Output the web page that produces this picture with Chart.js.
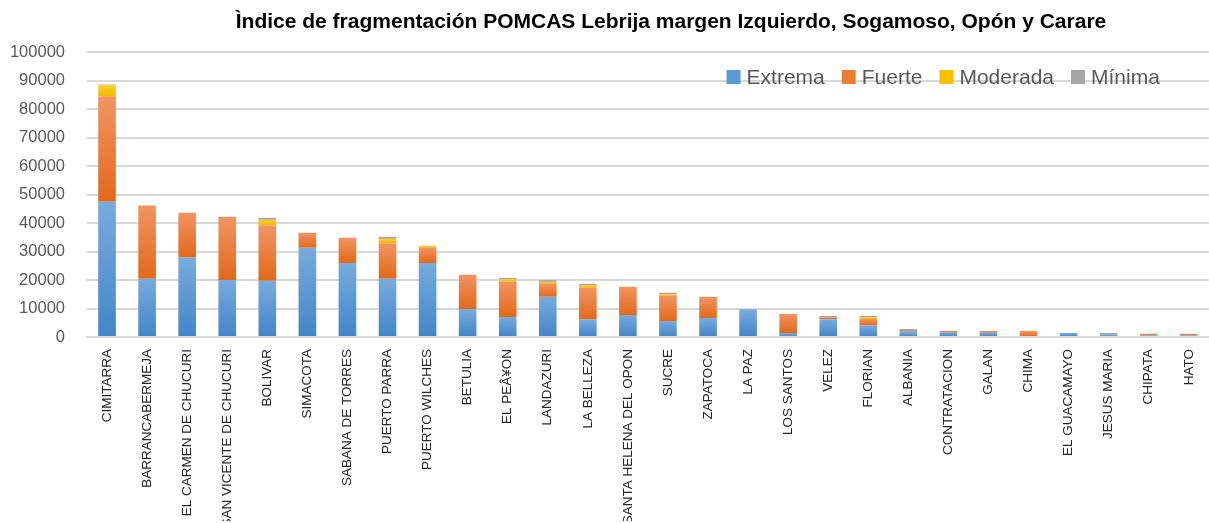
<!DOCTYPE html>
<html>
<head>
<meta charset="utf-8">
<style>
  html, body { margin: 0; padding: 0; background: #fff; }
  .chart { width: 1209px; height: 523px; }
</style>
</head>
<body>
<div class="chart">
  <canvas id="fragChart"></canvas>
</div>
<script src="https://cdn.jsdelivr.net/npm/chart.js"></script>
<script>
const chartTitle = 'Ìndice de fragmentación POMCAS Lebrija margen Izquierdo, Sogamoso, Opón y Carare';

const municipios = ['CIMITARRA', 'BARRANCABERMEJA', 'EL CARMEN DE CHUCURI', 'SAN VICENTE DE CHUCURI',
  'BOLIVAR', 'SIMACOTA', 'SABANA DE TORRES', 'PUERTO PARRA', 'PUERTO WILCHES', 'BETULIA',
  'EL PEÂ¥ON', 'LANDAZURI', 'LA BELLEZA', 'SANTA HELENA DEL OPON', 'SUCRE', 'ZAPATOCA',
  'LA PAZ', 'LOS SANTOS', 'VELEZ', 'FLORIAN', 'ALBANIA', 'CONTRATACION', 'GALAN', 'CHIMA',
  'EL GUACAMAYO', 'JESUS MARIA', 'CHIPATA', 'HATO'];

const extrema = [47500, 20400, 27900, 20000, 19700, 31300, 26000, 20400, 26000, 9800,
  7000, 14100, 6100, 7700, 5600, 6700, 9700, 1400, 6200, 4000, 1800, 1600, 1500, 0,
  1400, 800, 600, 600];
const fuerte = [36800, 25700, 15700, 22200, 19400, 5300, 8800, 12500, 5400, 12000,
  12400, 4600, 11200, 9900, 8900, 7400, 0, 6700, 700, 2300, 300, 500, 600, 2100,
  0, 0, 500, 500];
const moderada = [4000, 0, 0, 0, 2000, 0, 0, 1600, 600, 0,
  900, 700, 900, 0, 500, 0, 0, 0, 0, 600, 0, 0, 0, 0,
  0, 0, 0, 0];
const minima = [300, 0, 0, 0, 700, 0, 0, 700, 0, 0,
  400, 600, 400, 0, 500, 0, 0, 0, 500, 500, 700, 0, 0, 0,
  0, 600, 0, 0];

const yTicks = [0, 10000, 20000, 30000, 40000, 50000, 60000, 70000, 80000, 90000, 100000];

const series = [
  { label: 'Extrema', data: extrema, flat: '#5b9bd5', top: '#78abdd', bottom: '#4385c8' },
  { label: 'Fuerte', data: fuerte, flat: '#ed7d31', top: '#f29462', bottom: '#e2691a' },
  { label: 'Moderada', data: moderada, flat: '#ffc000', top: '#ffd02e', bottom: '#f0b400' },
  { label: 'Mínima', data: minima, flat: '#a5a5a5', top: '#b5b5b5', bottom: '#8e8e8e' }
];

// vertical gradient on each stacked piece, like the Excel fill
function pieceFill(s, dsIndex) {
  return function(ctx) {
    const chart = ctx.chart;
    const y = chart.scales.y;
    if (ctx.type !== 'data' || !chart.chartArea || !y) return s.flat;
    let base = 0;
    for (let k = 0; k < dsIndex; k++) base += series[k].data[ctx.dataIndex];
    const y0 = y.getPixelForValue(base);
    const y1 = y.getPixelForValue(base + s.data[ctx.dataIndex]);
    if (!isFinite(y0) || !isFinite(y1) || y0 === y1) return s.flat;
    const g = chart.ctx.createLinearGradient(0, y1, 0, y0);
    g.addColorStop(0, s.top);
    g.addColorStop(1, s.bottom);
    return g;
  };
}

// title sits a bit right of centre in the original, so it is drawn here
const offsetTitle = {
  id: 'offsetTitle',
  afterDraw(chart) {
    const c = chart.ctx;
    c.save();
    c.font = 'bold 21px "Liberation Sans"';
    c.fillStyle = '#000';
    c.textAlign = 'center';
    c.textBaseline = 'middle';
    c.fillText(chartTitle, 671, 22);
    c.restore();
  }
};

// legend drawn inside the plot, top right, as in the original
const insideLegend = {
  id: 'insideLegend',
  afterDraw(chart) {
    const c = chart.ctx;
    const area = chart.chartArea;
    c.save();
    c.font = '21px "Liberation Sans"';
    c.textBaseline = 'middle';
    const box = 14, gap = 6, spacing = 17;
    let total = 0;
    series.forEach((s, i) => {
      total += box + gap + c.measureText(s.label).width;
      if (i < series.length - 1) total += spacing;
    });
    let x = area.right - 49 - total;
    const yMid = area.top + 25;
    series.forEach(s => {
      c.fillStyle = s.flat;
      c.fillRect(x, yMid - box / 2, box, box);
      x += box + gap;
      c.fillStyle = '#595959';
      c.fillText(s.label, x, yMid + 1);
      x += c.measureText(s.label).width + spacing;
    });
    c.restore();
  }
};

const ctx = document.getElementById('fragChart').getContext('2d');
new Chart(ctx, {
  type: 'bar',
  data: {
    labels: municipios,
    datasets: series.map((s, i) => ({
      label: s.label,
      data: s.data,
      backgroundColor: pieceFill(s, i),
      borderWidth: 0,
      barPercentage: 0.44,
      categoryPercentage: 1.0
    }))
  },
  plugins: [offsetTitle, insideLegend],
  options: {
    responsive: true,
    maintainAspectRatio: false,
    animation: false,
    layout: { padding: { left: 6, right: 0, top: 52, bottom: 2 } },
    plugins: {
      legend: { display: false },
      tooltip: { enabled: false }
    },
    scales: {
      x: {
        stacked: true,
        afterFit(scale) { scale.height = 184; },
        grid: { display: false },
        border: { color: '#d9d9d9', width: 2 },
        ticks: {
          color: '#262626',
          font: { family: 'Liberation Sans', size: 13.5 },
          minRotation: 90,
          maxRotation: 90,
          autoSkip: false,
          padding: 4
        }
      },
      y: {
        stacked: true,
        min: 0,
        max: 100000,
        afterBuildTicks(axis) {
          axis.ticks = yTicks.map(v => ({ value: v }));
        },
        afterFit(scale) { scale.width = 81; },
        grid: { color: '#d9d9d9', lineWidth: 2, drawTicks: false },
        border: { display: false },
        ticks: {
          color: '#595959',
          font: { family: 'Liberation Sans', size: 16.5 },
          padding: 22,
          callback: v => String(v)
        }
      }
    }
  }
});
</script>
</body>
</html>
